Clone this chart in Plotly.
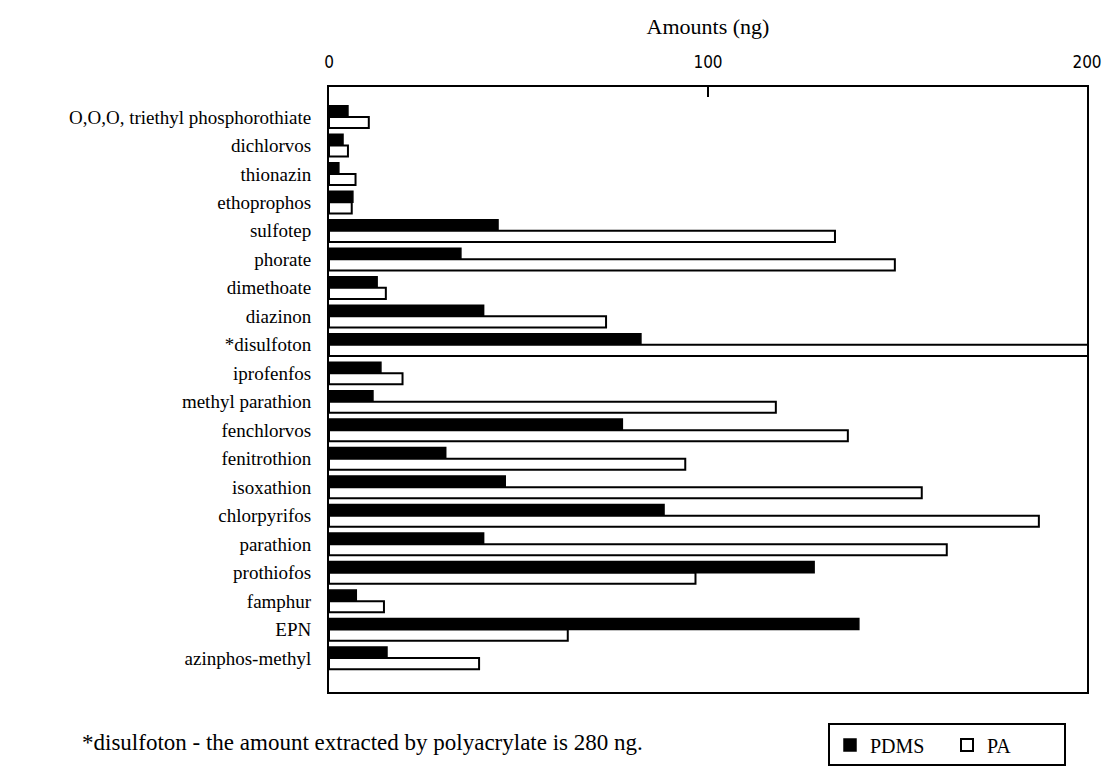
import plotly.graph_objects as go

compounds = [
    "O,O,O, triethyl phosphorothiate", "dichlorvos", "thionazin", "ethoprophos",
    "sulfotep", "phorate", "dimethoate", "diazinon", "*disulfoton", "iprofenfos",
    "methyl parathion", "fenchlorvos", "fenitrothion", "isoxathion", "chlorpyrifos",
    "parathion", "prothiofos", "famphur", "EPN", "azinphos-methyl",
]
pdms = [5.0, 3.7, 2.6, 6.3, 44.6, 34.8, 12.7, 40.8, 82.3, 13.7,
        11.6, 77.4, 30.8, 46.5, 88.4, 40.8, 128.0, 7.2, 139.8, 15.3]
pa = [10.5, 5.0, 7.0, 6.0, 133.5, 149.3, 15.0, 73.1, 280.0, 19.4,
      117.9, 136.9, 94.0, 156.4, 187.3, 163.0, 96.7, 14.5, 63.0, 39.6]

tick_vals = [0, 100, 200]
footnote = "*disulfoton - the amount extracted by polyacrylate is 280 ng."

serif = "Liberation Serif"
narrow = "Liberation Sans Narrow, Arial Narrow, DejaVu Sans Condensed, sans-serif"

fig = go.Figure()
fig.add_trace(go.Bar(
    y=compounds, x=pdms, orientation="h", name="PDMS",
    marker=dict(color="black", line=dict(color="black", width=1.5)),
))
fig.add_trace(go.Bar(
    y=compounds, x=pa, orientation="h", name="PA",
    marker=dict(color="white", line=dict(color="black", width=2)),
))

fig.update_layout(
    width=1111, height=775,
    margin=dict(l=329, r=24, t=87, b=83, autoexpand=False),
    paper_bgcolor="white", plot_bgcolor="white",
    barmode="group", bargap=0.22, bargroupgap=0.0,
    font=dict(family=serif, color="black", size=18),
    showlegend=True,
    legend=dict(
        orientation="h", x=(828 - 329) / 758, xanchor="left", y=-0.052, yanchor="top",
        bordercolor="black", borderwidth=2, bgcolor="white",
        font=dict(family=serif, size=20), itemwidth=30, traceorder="normal",
        entrywidth=72, entrywidthmode="pixels",
    ),
    xaxis=dict(
        side="top", range=[0, 200], tickvals=tick_vals, automargin=False,
        ticks="inside", ticklen=10, tickwidth=1.5, tickcolor="black",
        showgrid=False, zeroline=False,
        showline=True, linecolor="black", linewidth=2, mirror=True,
        ticklabelstandoff=10,
        tickfont=dict(family=narrow, size=17),
        title=dict(text="Amounts (ng)", standoff=12, font=dict(family=serif, size=22)),
    ),
    yaxis=dict(
        type="category", range=[20.19, -1.05], automargin=False,
        showgrid=False, zeroline=False, ticks="",
        showline=True, linecolor="black", linewidth=2, mirror=True,
        ticklabelstandoff=12,
        tickfont=dict(family=serif, size=19),
    ),
    annotations=[dict(
        text=footnote, xref="paper", yref="paper",
        x=(80 - 329) / 758, xanchor="left", y=-0.084, yanchor="middle",
        showarrow=False, font=dict(family=serif, size=23),
    )],
)

fig.write_html("out.html")
